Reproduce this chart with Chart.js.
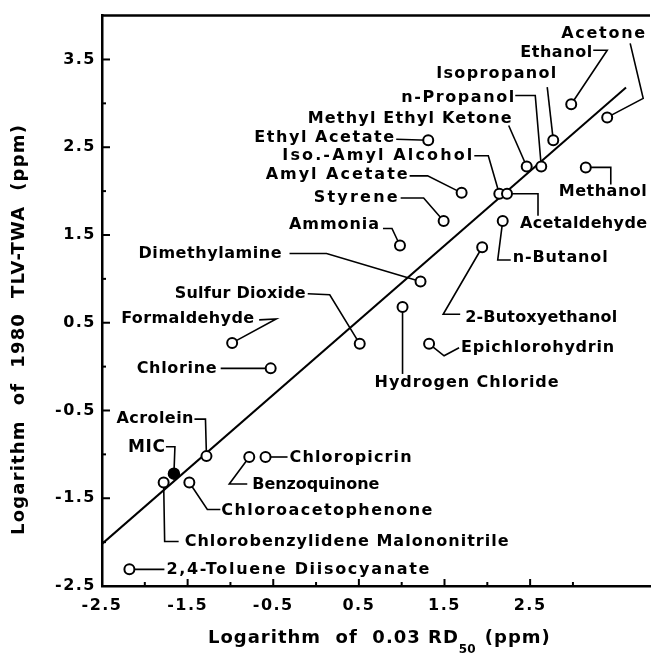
<!DOCTYPE html>
<html>
<head>
<meta charset="utf-8">
<script src="https://cdn.jsdelivr.net/npm/chart.js@4.4.0/dist/chart.umd.min.js"></script>
<style>
  html, body { margin: 0; padding: 0; background: #fff; }
  #wrap { width: 660px; height: 665px; }
</style>
</head>
<body>
<div id="wrap"><canvas id="chart" width="660" height="665"></canvas></div>
<script>
// chemicals
const chemicals = [
    "Acetone", "Ethanol", "Isopropanol", "n-Propanol", "Methyl Ethyl Ketone",
    "Methanol", "Ethyl Acetate", "Iso.-Amyl Alcohol", "Acetaldehyde", "Amyl Acetate",
    "Styrene", "Ammonia", "n-Butanol", "2-Butoxyethanol", "Dimethylamine",
    "Hydrogen Chloride", "Sulfur Dioxide", "Epichlorohydrin", "Formaldehyde", "Chlorine",
    "Acrolein", "MIC", "Chlorobenzylidene Malononitrile", "Chloroacetophenone", "Benzoquinone",
    "Chloropicrin", "2,4-Toluene Diisocyanate"
];
// log of 0.03 RD50 (ppm)
const logRD50 = [
    3.40, 2.98, 2.77, 2.63, 2.46,
    3.15, 1.31, 2.14, 2.23, 1.70,
    1.49, 0.98, 2.18, 1.94, 1.22,
    1.01, 0.51, 1.32, -0.98, -0.53,
    -1.28, -1.66, -1.78, -1.48, -0.78,
    -0.59, -2.18
];
// log of 1980 TLV-TWA (ppm)
const logTLV = [
    2.84, 2.99, 2.58, 2.28, 2.28,
    2.27, 2.58, 1.97, 1.97, 1.98,
    1.66, 1.38, 1.66, 1.36, 0.97,
    0.68, 0.26, 0.26, 0.27, -0.02,
    -1.02, -1.22, -1.32, -1.32, -1.03,
    -1.03, -2.31
];
// regression line end points
const fitX = [-2.5, 3.62];
const fitY = [-2.02, 3.18];

const highlighted = "MIC";

// label placement: text offset (dx, dy), text width w, leader path -- pixels relative to the point
const calloutLayout = {
    "Acetone": { dx: -46, dy: -84, w: 84, path: [[23, -74], [36, -19], [0, 0]] },
    "Ethanol": { dx: -51, dy: -51, w: 72, path: [[22, -54], [36, -54], [0, 0]] },
    "Isopropanol": { dx: -117, dy: -66, w: 120, path: [[-6, -53], [0, 0]] },
    "n-Propanol": { dx: -140, dy: -69, w: 113, path: [[-26, -71], [-6, -71], [0, 0]] },
    "Methyl Ethyl Ketone": { dx: -219, dy: -48, w: 204, path: [[-18, -41], [0, 0]] },
    "Methanol": { dx: -27, dy: 24, w: 88, path: [[0, 0], [25, 0], [25, 17]] },
    "Ethyl Acetate": { dx: -174, dy: -2, w: 140, path: [[-32, -1], [0, 0]] },
    "Iso.-Amyl Alcohol": { dx: -217, dy: -38, w: 190, path: [[-25, -38], [-11, -38], [0, 0]] },
    "Acetaldehyde": { dx: 13, dy: 30, w: 127, path: [[0, 0], [31, 0], [31, 22]] },
    "Amyl Acetate": { dx: -196, dy: -18, w: 142, path: [[-52, -17], [-34, -17], [0, 0]] },
    "Styrene": { dx: -130, dy: -23, w: 84, path: [[-43, -23], [-20, -23], [0, 0]] },
    "Ammonia": { dx: -111, dy: -21, w: 90, path: [[-17, -17], [-8, -17], [0, 0]] },
    "n-Butanol": { dx: 10, dy: 37, w: 95, path: [[0, 0], [-5, 39], [8, 39]] },
    "2-Butoxyethanol": { dx: -17, dy: 71, w: 152, path: [[0, 0], [-39, 67], [-22, 67]] },
    "Dimethylamine": { dx: -282, dy: -28, w: 143, path: [[-131, -28], [-94, -28], [0, 0]] },
    "Hydrogen Chloride": { dx: -28, dy: 76, w: 184, path: [[0, 0], [0, 67]] },
    "Sulfur Dioxide": { dx: -185, dy: -50, w: 131, path: [[-52, -50], [-30, -49], [0, 0]] },
    "Epichlorohydrin": { dx: 32, dy: 4, w: 153, path: [[0, 0], [15, 12], [30, 4]] },
    "Formaldehyde": { dx: -111, dy: -24, w: 133, path: [[27, -23], [44, -24], [0, 0]] },
    "Chlorine": { dx: -134, dy: 0, w: 80, path: [[-50, 0], [0, 0]] },
    "Acrolein": { dx: -90, dy: -37, w: 77, path: [[-12, -37], [-1, -37], [0, 0]] },
    "MIC": { dx: -46, dy: -26, w: 37, path: [[-8, -27], [1, -27], [0, 0]] },
    "Chlorobenzylidene Malononitrile": { dx: 21, dy: 59, w: 324, path: [[0, 0], [1, 59], [15, 59]] },
    "Chloroacetophenone": { dx: 32, dy: 28, w: 211, path: [[0, 0], [18, 27], [31, 27]] },
    "Benzoquinone": { dx: 3, dy: 28, w: 127, path: [[0, 0], [-20, 27], [-2, 27]] },
    "Chloropicrin": { dx: 24, dy: 1, w: 122, path: [[0, 0], [22, 0]] },
    "2,4-Toluene Diisocyanate": { dx: 37, dy: 1, w: 263, path: [[0, 0], [35, 0]] }
};

// x axis title pieces: [text, subscript?], drawn one after another
const xTitleParts = [
    ["Logarithm  of  0.03 RD", false],
    ["50", true],
    [" (ppm)", false]
];
const yTitle = "Logarithm  of  1980  TLV-TWA  (ppm)";

const FAMILY = '"DejaVu Sans", "Liberation Sans", sans-serif';

function halfLabel(v) {
    const t = Math.round(v * 2);
    if (Math.abs(v * 2 - t) > 1e-6 || Math.abs(t) % 2 !== 1) return "";
    return v.toFixed(1);
}

// draw text stretched to a given width by letter spacing
function fitText(ctx, text, x, y, width) {
    ctx.letterSpacing = "0px";
    const w = ctx.measureText(text).width;
    const sp = (width - w) / Math.max(1, text.length - 1);
    ctx.letterSpacing = sp.toFixed(2) + "px";
    ctx.fillText(text, x, y);
    ctx.letterSpacing = "0px";
}

const calloutPlugin = {
    id: "callouts",
    beforeDraw(chart) {
        chart.ctx.letterSpacing = "1.5px";
    },
    beforeDatasetsDraw(chart) {
        const ctx = chart.ctx;
        const xs = chart.scales.x, ys = chart.scales.y;
        ctx.save();
        ctx.strokeStyle = "#000";
        ctx.fillStyle = "#000";
        ctx.lineWidth = 1.6;
        ctx.textBaseline = "middle";
        ctx.textAlign = "left";
        chemicals.forEach((name, i) => {
            const c = calloutLayout[name];
            if (!c) return;
            const px = xs.getPixelForValue(logRD50[i]);
            const py = ys.getPixelForValue(logTLV[i]);
            ctx.beginPath();
            c.path.forEach(([dx, dy], k) => {
                if (k === 0) ctx.moveTo(px + dx, py + dy);
                else ctx.lineTo(px + dx, py + dy);
            });
            ctx.stroke();
            ctx.font = (name === highlighted ? "bold 17px " : "bold 16px ") + FAMILY;
            fitText(ctx, name, px + c.dx, py + c.dy, c.w);
        });
        ctx.restore();
    },
    afterDraw(chart) {
        const ctx = chart.ctx;
        const area = chart.chartArea;
        const xs = chart.scales.x, ys = chart.scales.y;
        ctx.save();
        ctx.strokeStyle = "#000";
        ctx.fillStyle = "#000";

        // top frame line
        ctx.lineWidth = 2.5;
        ctx.beginPath();
        ctx.moveTo(area.left - 1, area.top);
        ctx.lineTo(area.right, area.top);
        ctx.stroke();

        // inward tick marks
        ctx.lineWidth = 2;
        ys.ticks.forEach(t => {
            const v = t.value;
            if (v >= ys.max) return;
            const len = halfLabel(v) ? 8 : (Math.abs(v - Math.round(v)) < 1e-6 ? 4 : 0);
            if (!len) return;
            const py = ys.getPixelForValue(v);
            ctx.beginPath();
            ctx.moveTo(area.left, py);
            ctx.lineTo(area.left + len, py);
            ctx.stroke();
        });
        xs.ticks.forEach(t => {
            const v = t.value;
            if (v <= xs.min) return;
            const len = halfLabel(v) ? 7 : (Math.abs(v - Math.round(v)) < 1e-6 ? 4 : 0);
            if (!len) return;
            const px = xs.getPixelForValue(v);
            ctx.beginPath();
            ctx.moveTo(px, area.bottom);
            ctx.lineTo(px, area.bottom - len);
            ctx.stroke();
        });

        // axis titles
        ctx.textBaseline = "middle";
        ctx.textAlign = "left";
        let tx = 208;
        xTitleParts.forEach(([text, sub]) => {
            ctx.font = (sub ? "bold 12px " : "bold 18px ") + FAMILY;
            ctx.letterSpacing = sub ? "0px" : "1px";
            ctx.fillText(text, tx, sub ? 650 : 638);
            tx += ctx.measureText(text).width + (sub ? 2 : 0);
        });

        ctx.font = "bold 18px " + FAMILY;
        ctx.translate(19, 330);
        ctx.rotate(-Math.PI / 2);
        fitText(ctx, yTitle, -205, 0, 410);
        ctx.restore();
    }
};

const openIdx = chemicals.map((n, i) => i).filter(i => chemicals[i] !== highlighted);
const fillIdx = chemicals.map((n, i) => i).filter(i => chemicals[i] === highlighted);

const tickFont = { family: FAMILY, weight: "bold", size: 16 };

new Chart(document.getElementById("chart"), {
    type: "scatter",
    data: {
        datasets: [
            {
                label: highlighted,
                data: fillIdx.map(i => ({ x: logRD50[i], y: logTLV[i] })),
                pointRadius: 5.5,
                pointBorderWidth: 1.5,
                pointBackgroundColor: "#000",
                pointBorderColor: "#000",
                order: 0
            },
            {
                label: "Chemicals",
                data: openIdx.map(i => ({ x: logRD50[i], y: logTLV[i] })),
                pointRadius: 5,
                pointBorderWidth: 2,
                pointBackgroundColor: "#fff",
                pointBorderColor: "#000",
                order: 1
            },
            {
                type: "line",
                label: "Fit",
                data: fitX.map((x, i) => ({ x: x, y: fitY[i] })),
                borderColor: "#000",
                borderWidth: 2,
                pointRadius: 0,
                fill: false,
                order: 2
            }
        ]
    },
    options: {
        responsive: false,
        animation: false,
        layout: { padding: { top: 14, right: 0, bottom: 0, left: 0 } },
        plugins: {
            legend: { display: false },
            tooltip: { enabled: false }
        },
        scales: {
            x: {
                type: "linear",
                min: -2.5,
                max: 3.9,
                afterFit: s => { s.height = 79; },
                grid: { display: false, drawTicks: false },
                border: { display: true, color: "#000", width: 2.5 },
                ticks: {
                    stepSize: 0.5,
                    autoSkip: false,
                    maxRotation: 0,
                    padding: 10,
                    color: "#000",
                    font: tickFont,
                    callback: halfLabel
                }
            },
            y: {
                type: "linear",
                min: -2.5,
                max: 4.0,
                afterFit: s => { s.width = 102; },
                grid: { display: false, drawTicks: false },
                border: { display: true, color: "#000", width: 2.5 },
                ticks: {
                    stepSize: 0.5,
                    autoSkip: false,
                    padding: 6,
                    color: "#000",
                    font: tickFont,
                    callback: halfLabel
                }
            }
        }
    },
    plugins: [calloutPlugin]
});
</script>
</body>
</html>
